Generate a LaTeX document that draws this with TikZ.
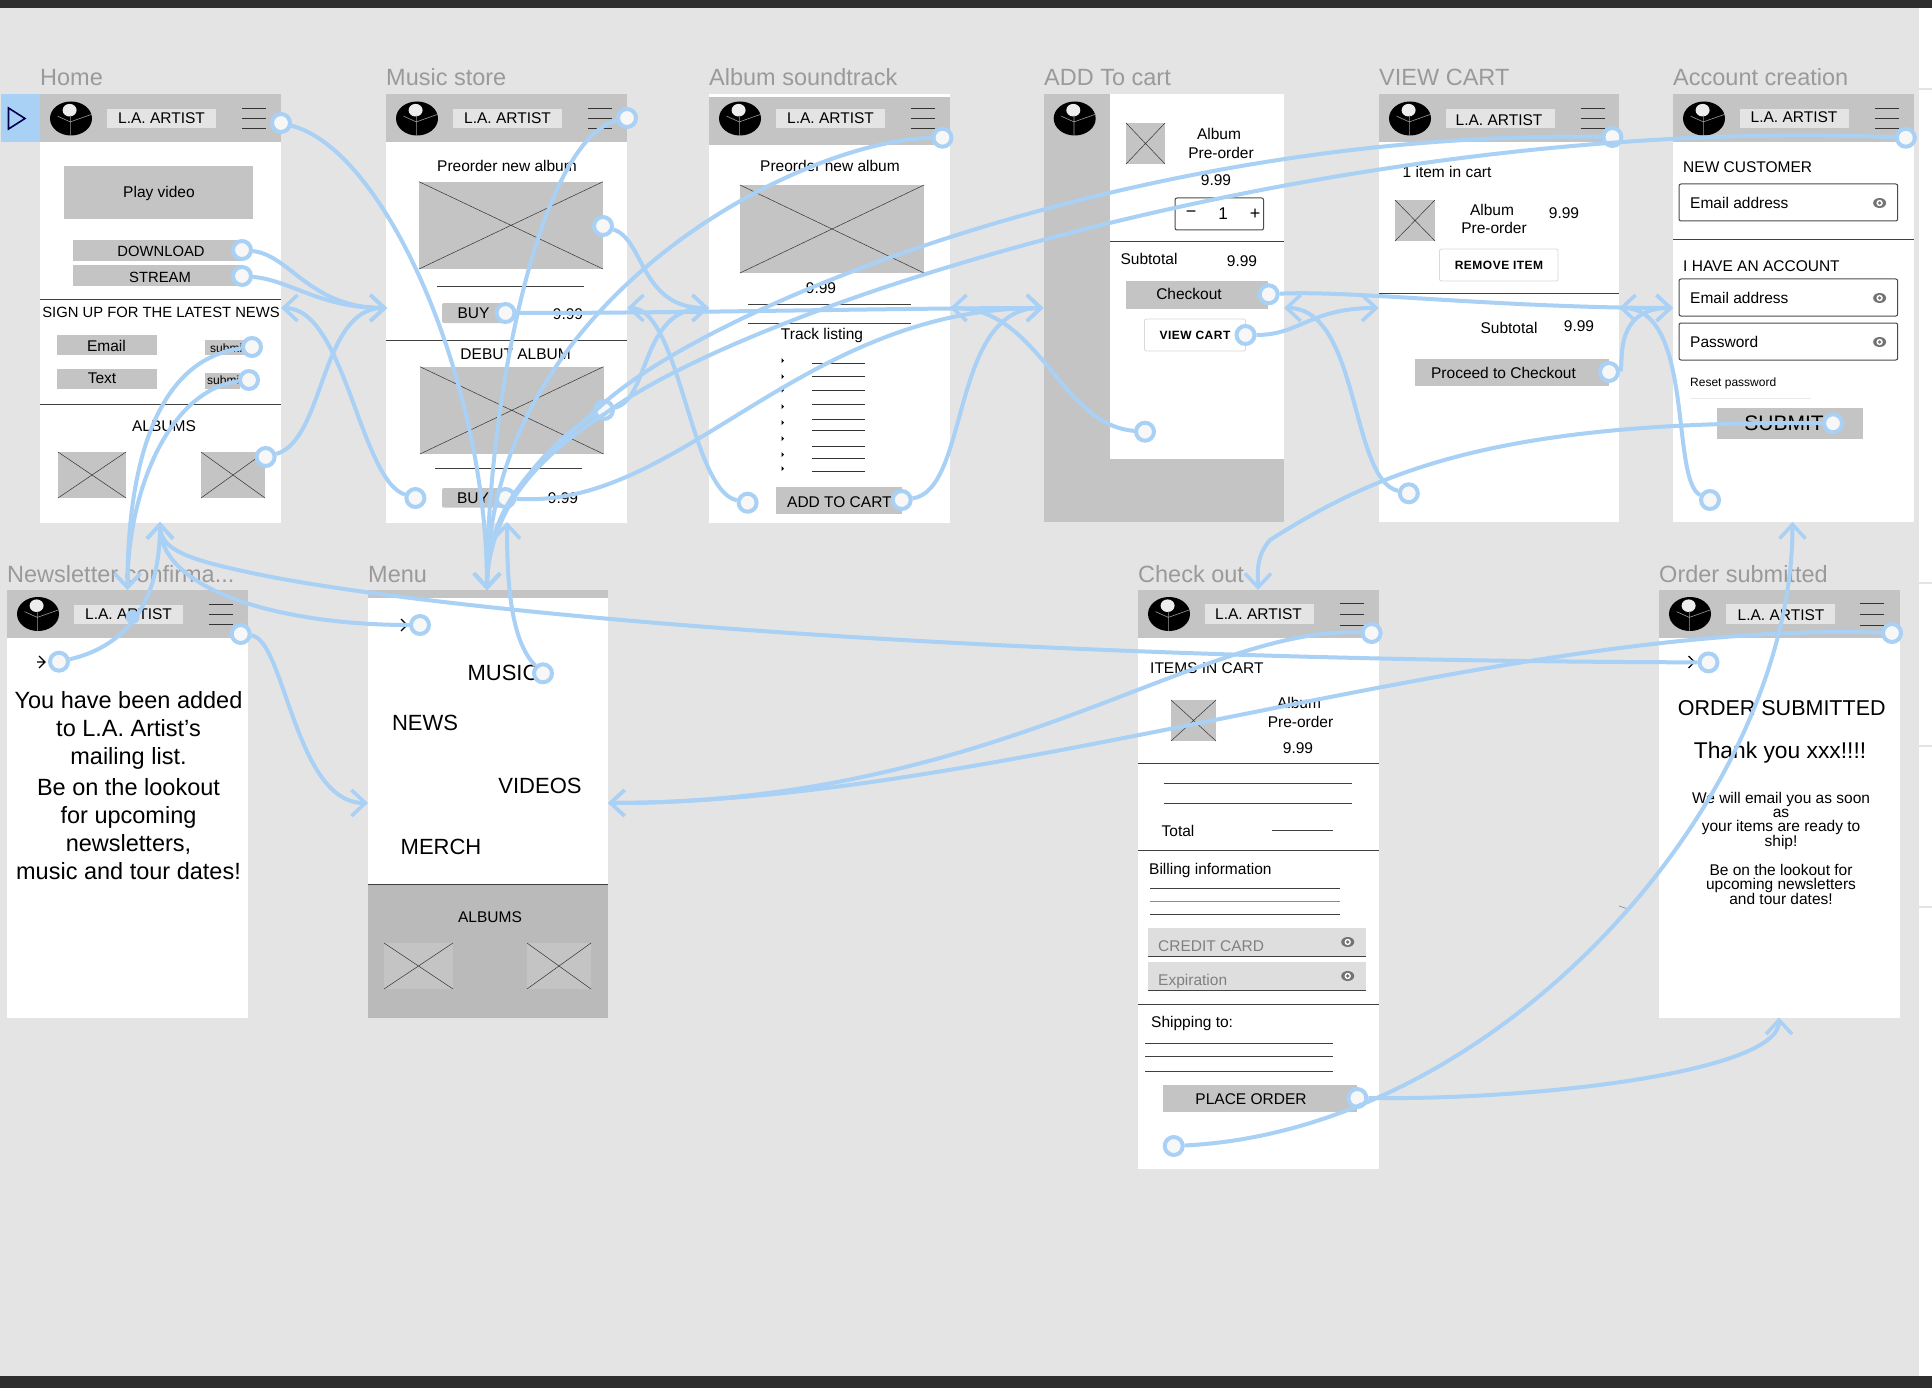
\documentclass[tikz,border=0pt]{standalone}
\usepackage{fontspec}
\setmainfont{Liberation Sans}
\usetikzlibrary{arrows.meta}
\definecolor{canvas}{HTML}{E4E4E4}
\definecolor{bar}{HTML}{2E2E2E}
\definecolor{wire}{HTML}{C4C4C4}
\definecolor{linkblue}{HTML}{A9D0F5}
\definecolor{titlegray}{HTML}{9A9A9A}
\tikzset{
  titletext/.style={anchor=base west,text=titlegray,font=\fontsize{23.5}{26}\selectfont},
  smalltext/.style={font=\fontsize{12}{14}\selectfont},
  bodytext/.style={font=\fontsize{15.5}{18}\selectfont},
  capstext/.style={font=\fontsize{14.8}{18}\selectfont},
  bigtext/.style={font=\fontsize{22}{28}\selectfont},
  lefttext/.style={bodytext,anchor=west},
  rule/.style={line width=0.8pt,draw=black!75},
  thinrule/.style={line width=0.5pt,draw=black!80},
  field/.style={rounded corners=2pt,draw=black!70,line width=1pt,fill=white},
  ghostbtn/.style={rounded corners=2pt,draw=black!15,line width=0.8pt,fill=white},
  hot/.style={circle,draw=linkblue,fill=white!97!black,line width=4pt,minimum size=18pt,inner sep=0pt},
  link/.style={draw=linkblue,line width=4pt,-{Straight Barb[length=14pt,width=26pt,line width=3.5pt]}},
}
\newcommand{\artistlogo}[2]{
  \begin{scope}[shift={(#1,#2)}]
    \fill[black] (0,0) ellipse (21pt and 17pt);
    \fill[black!7] (-1.4,-8.3) ellipse (7pt and 6.3pt);
    \draw[black!40,line width=0.6pt] (-0.7,17) -- (-0.7,3.4) -- (-13.4,-2.3) (-0.7,3.4) -- (21,-4.3) (-0.7,3.4) -- (-0.7,-3);
  \end{scope}
}
\newcommand{\screenhead}[3]{
  \fill[white] (#2,#3) rectangle +(241,428);
  \fill[wire] (#2,#3) rectangle +(241,48);
  \artistlogo{#2+31}{#3+24}
  \fill[canvas] (#2+67,#3+14.5) rectangle +(109,19);
  \node[bodytext] (#1label) at (#2+121.5,#3+24) {L.A. ARTIST};
  \draw[thinrule] (#2+202,#3+14) -- +(23.5,0) (#2+202,#3+24) -- +(23.5,0) (#2+202,#3+34) -- +(23.5,0);
}
\newcommand{\xbox}[4]{
  \fill[wire] (#1,#2) rectangle (#3,#4);
  \draw[thinrule] (#1,#2) -- (#3,#4) (#1,#4) -- (#3,#2);
}
\newcommand{\eyemark}[2]{
  \fill[black!55] (#1,#2) ellipse (6.5pt and 5pt);
  \fill[white] (#1,#2) circle (3.2pt);
  \fill[black!55] (#1,#2) circle (1.8pt);
}
\newcommand{\backmark}[2]{
  \draw[line width=1.2pt,black] (#1-3,#2-6) -- (#1+3,#2) -- (#1-3,#2+6) (#1-5,#2) -- (#1+3,#2);
}
\begin{document}
\begin{tikzpicture}[x=1pt,y=-1pt,inner sep=0pt]
  \useasboundingbox (0,0) rectangle (1932,1388);
  \fill[white] (0,0) rectangle (1932,1388);
  \fill[canvas] (0,0) rectangle (1919,1388);
  \foreach \ly in {88.5,581.6,745,906}
    \fill[canvas] (1919,\ly) rectangle (1932,\ly+2);
  \fill[bar] (0,0) rectangle (1932,8);
  \fill[bar] (0,1376) rectangle (1932,1388);
  \fill[linkblue] (1,94) rectangle (40,142);
  \draw[line width=1.6pt,black!70!blue] (8.5,108) -- (25,118.5) -- (8.5,129) -- cycle;

  \node[titletext] (hometitle) at (40,85.5) {Home};
  \node[titletext] (storetitle) at (386,85.5) {Music store};
  \node[titletext] (albumtitle) at (709,85.5) {Album soundtrack};
  \node[titletext] (carttitle) at (1044,85.5) {ADD To cart};
  \node[titletext] (viewtitle) at (1379,85.5) {VIEW CART};
  \node[titletext] (accttitle) at (1673,85.5) {Account creation};
  \node[titletext] (newstitle) at (7,582) {Newsletter confirma...};
  \node[titletext] (menutitle) at (368,582) {Menu};
  \node[titletext] (checktitle) at (1138,582) {Check out};
  \node[titletext] (ordertitle) at (1659,582) {Order submitted};

  \screenhead{home}{40}{94.5}
  \fill[wire] (64,166) rectangle (253,219);
  \node[bodytext] (playvideo) at (159,193) {Play video};
  \fill[wire] (73,240) rectangle (243,260.7);
  \node[capstext] (download) at (161,251.5) {DOWNLOAD};
  \fill[wire] (73,265) rectangle (243,286);
  \node[capstext] (stream) at (160,277) {STREAM};
  \draw[rule] (40,299) -- (281,299);
  \node[capstext] (signup) at (161,312.7) {SIGN UP FOR THE LATEST NEWS};
  \fill[wire] (57,335) rectangle (157,355);
  \node[bodytext] (emailbtn) at (106.5,345.6) {Email};
  \fill[wire] (57,368.7) rectangle (157,388.7);
  \node[bodytext] (textbtn) at (102,378) {Text};
  \fill[wire] (205,340) rectangle (245,355);
  \node[smalltext,anchor=west] (submitone) at (210,348) {submit};
  \fill[wire] (205,372.7) rectangle (240,388.7);
  \node[smalltext,anchor=west] (submittwo) at (207,380) {submit};
  \draw[rule] (40,404) -- (281,404);
  \node[bodytext] (homealbums) at (164,426) {ALBUMS};
  \xbox{58}{452}{126}{498}
  \xbox{201}{452}{265}{498}

  \screenhead{store}{386}{94.5}
  \node[bodytext] (storepreorder) at (507,165.7) {Preorder new album};
  \xbox{419}{181.7}{603}{269}
  \draw[rule] (437,286.3) -- (584,286.3);
  \fill[wire,rounded corners=2pt] (442,303) rectangle (505,323);
  \node[bodytext] (buyone) at (473.5,313) {BUY};
  \node[bodytext] (priceone) at (568,314) {9.99};
  \draw[rule] (386,340) -- (627,340);
  \node[bodytext] (debut) at (515.6,354) {DEBUT ALBUM};
  \xbox{420}{366.7}{603.5}{454}
  \draw[rule] (435,468) -- (582,468);
  \fill[wire,rounded corners=2pt] (442,488) rectangle (505,507.7);
  \node[bodytext] (buytwo) at (473,498) {BUY};
  \node[bodytext] (pricetwo) at (563,498) {9.99};

  \screenhead{album}{709}{94.5}
  \fill[white] (709,94.5) rectangle (950,97);
  \fill[wire] (709,142) rectangle (950,145);
  \node[bodytext] (albumpreorder) at (830,166) {Preorder new album};
  \xbox{740}{185}{924}{273}
  \node[bodytext] (albumprice) at (821,288) {9.99};
  \draw[rule] (748,304) -- (911,304);
  \draw[rule] (748,323) -- (911,323);
  \node[bodytext] (tracks) at (822,335) {Track listing};
  \foreach \ty in {360.7,376.7,390,406.7,422.7,438.7,454.7,468.7}
    \fill (781.5,\ty-2.5) -- (784,\ty) -- (781.5,\ty+2.5) -- cycle;
  \foreach \ty in {363,376.7,390,404,419,430.7,446,458,471}
    \draw[thinrule] (812,\ty) -- (865,\ty);
  \fill[wire] (776,487) rectangle (901.7,514);
  \node[bodytext] (addcartbtn) at (839.4,501.7) {ADD TO CART};

  \fill[wire] (1043.5,94.5) rectangle (1284,522);
  \fill[white] (1110,94.5) rectangle (1284,459);
  \artistlogo{1074.7}{118.5}
  \xbox{1126}{123}{1165}{164}
  \node[bodytext] (cartitem) at (1219,134) {Album};
  \node[bodytext] (cartpre) at (1221,152.7) {Pre-order};
  \node[bodytext] (cartprice) at (1216,180) {9.99};
  \draw[field] (1175,198) rectangle (1263.6,230);
  \node[font=\fontsize{18}{20}\selectfont] (stepminus) at (1191,214) {−};
  \node[font=\fontsize{17}{20}\selectfont] (stepone) at (1223,214) {1};
  \node[font=\fontsize{18}{20}\selectfont] (stepplus) at (1255,214) {+};
  \draw[rule] (1110,241.7) -- (1284,241.7);
  \node[bodytext] (cartsub) at (1149,259) {Subtotal};
  \node[bodytext] (cartsubprice) at (1242,260.7) {9.99};
  \fill[wire] (1126,281) rectangle (1268,308.7);
  \node[bodytext] (checkoutbtn) at (1189,294) {Checkout};
  \draw[ghostbtn] (1144.5,319) rectangle (1245.5,351);
  \node[smalltext] (viewcartbtn) at (1195,335) {\bfseries\addfontfeature{LetterSpace=4}VIEW CART};

  \fill[white] (1378.6,94.5) rectangle +(240.4,427.5);
  \fill[wire] (1378.6,94.5) rectangle +(240.4,48);
  \artistlogo{1410}{118.5}
  \fill[canvas] (1445.5,109) rectangle +(109,19);
  \node[bodytext] (viewlabel) at (1499,120) {L.A. ARTIST};
  \draw[thinrule] (1581,108) -- +(23.5,0) (1581,118) -- +(23.5,0) (1581,128) -- +(23.5,0);
  \node[bodytext] (itemcount) at (1447,171.7) {1 item in cart};
  \xbox{1395}{200}{1435}{241}
  \node[bodytext] (viewitem) at (1492,209.7) {Album};
  \node[bodytext] (viewpre) at (1494,228) {Pre-order};
  \node[bodytext] (viewprice) at (1564,213) {9.99};
  \draw[ghostbtn] (1439.5,249) rectangle (1558,281);
  \node[smalltext] (removebtn) at (1499,265.7) {\bfseries\addfontfeature{LetterSpace=4}REMOVE ITEM};
  \draw[rule] (1379,293.7) -- (1619,293.7);
  \node[bodytext] (viewsub) at (1509,327.7) {Subtotal};
  \node[bodytext] (viewsubprice) at (1579,326) {9.99};
  \fill[wire] (1415,359) rectangle (1609,385.7);
  \node[bodytext] (proceedbtn) at (1503.5,372.7) {Proceed to Checkout};

  \fill[white] (1673,94.5) rectangle +(240.5,427.5);
  \fill[wire] (1673,94.5) rectangle +(240.5,48);
  \artistlogo{1704}{118.5}
  \fill[canvas] (1740,109) rectangle +(109,19);
  \node[bodytext] (acctlabel) at (1794,117) {L.A. ARTIST};
  \draw[thinrule] (1875,108) -- +(23.5,0) (1875,118) -- +(23.5,0) (1875,128) -- +(23.5,0);
  \node[lefttext] (newcustomer) at (1683,167) {NEW CUSTOMER};
  \draw[field] (1679,184) rectangle (1897.7,221);
  \node[lefttext] (emailone) at (1690,203) {Email address};
  \eyemark{1879.6}{203}
  \draw[rule] (1673,239) -- (1913.5,239);
  \node[lefttext] (haveaccount) at (1683,265.7) {I HAVE AN ACCOUNT};
  \draw[field] (1679,279) rectangle (1897.7,316);
  \node[lefttext] (emailtwo) at (1690,298) {Email address};
  \eyemark{1879.6}{298}
  \draw[field] (1679,323) rectangle (1897.7,360);
  \node[lefttext] (password) at (1690,342) {Password};
  \eyemark{1879.6}{342}
  \node[smalltext,anchor=west] (resetpass) at (1690,383.7) {Reset password};
  \draw[black!8,line width=0.6pt] (1690,398) -- (1811,398);
  \fill[wire] (1717,408) rectangle (1863,439);
  \node[font=\fontsize{21}{24}\selectfont] (submitbtn) at (1784,423) {SUBMIT};

  \screenhead{news}{7}{590}
  \node[font=\fontsize{23.5}{28}\selectfont,align=center] (newsbody) at (128.5,785.5) {You have been added\\to L.A. Artist’s\\mailing list.\\[3pt]Be on the lookout\\for upcoming\\newsletters,\\music and tour dates!};
  \backmark{42}{662}

  \fill[white] (367.5,590) rectangle (608,1018);
  \fill[wire] (367.5,590) rectangle (608,597.6);
  \fill[black!27] (367.5,884) rectangle (608,1018);
  \draw[rule] (367.5,884) -- (608,884);
  \node[bigtext] (menumusic) at (503,673) {MUSIC};
  \node[bigtext] (menunews) at (425,722.7) {NEWS};
  \node[bigtext] (menuvideos) at (540,785.7) {VIDEOS};
  \node[bigtext] (menumerch) at (441,846.7) {MERCH};
  \node[bodytext] (menualbums) at (490,916.7) {ALBUMS};
  \xbox{384}{943}{453}{989}
  \xbox{527}{943}{591}{989}
  \backmark{404}{625}

  \fill[white] (1138,590) rectangle (1378.5,1168.6);
  \fill[wire] (1138,590) rectangle +(240.5,48);
  \artistlogo{1169}{614}
  \fill[canvas] (1205,604) rectangle +(109,20);
  \node[bodytext] (checklabel) at (1258.5,614) {L.A. ARTIST};
  \draw[thinrule] (1340,603) -- +(23.5,0) (1340,614) -- +(23.5,0) (1340,625) -- +(23.5,0);
  \node[lefttext] (itemsincart) at (1150,667.8) {ITEMS IN CART};
  \xbox{1171}{700}{1216}{741}
  \node[bodytext] (checkitem) at (1299,703) {Album};
  \node[bodytext] (checkpre) at (1300.5,722.4) {Pre-order};
  \node[bodytext] (checkprice) at (1298,748) {9.99};
  \draw[rule] (1138,763.7) -- (1378.5,763.7);
  \draw[rule] (1163.7,783) -- (1352,783);
  \draw[rule] (1163.7,803) -- (1352,803);
  \node[bodytext] (checktotal) at (1178,830.6) {Total};
  \draw[rule] (1272,830) -- (1333,830);
  \draw[rule] (1138,850) -- (1378.5,850);
  \node[lefttext] (billing) at (1149,870) {Billing information};
  \draw[rule] (1150,888.6) -- (1340,888.6);
  \draw[rule,line width=1.4pt,draw=black!45] (1150,901.6) -- (1340,901.6);
  \draw[rule] (1150,914) -- (1340,914);
  \fill[black!13] (1147.7,928) rectangle (1366,956);
  \draw[rule] (1147.7,956) -- (1366,956);
  \node[lefttext,text=black!50] (creditcard) at (1158,946) {CREDIT CARD};
  \eyemark{1347.7}{942}
  \fill[black!13] (1147.7,962) rectangle (1366,990);
  \draw[rule] (1147.7,990) -- (1366,990);
  \node[lefttext,text=black!50] (expiration) at (1158,981) {Expiration};
  \eyemark{1347.7}{976}
  \draw[rule] (1138,1004.5) -- (1378.5,1004.5);
  \node[lefttext] (shipping) at (1151,1023.7) {Shipping to:};
  \draw[rule] (1145,1043.7) -- (1333,1043.7);
  \draw[rule] (1145,1056) -- (1333,1056);
  \draw[rule] (1145,1071) -- (1333,1071);
  \fill[wire] (1163,1085) rectangle (1357,1112);
  \node[bodytext] (placeorderbtn) at (1251,1098.8) {PLACE ORDER};

  \fill[white] (1658.6,590) rectangle (1899.5,1017.5);
  \fill[wire] (1658.6,590) rectangle +(240.9,48);
  \artistlogo{1690}{614}
  \fill[canvas] (1725.5,604) rectangle +(109,20);
  \node[bodytext] (orderlabel) at (1781,615) {L.A. ARTIST};
  \draw[thinrule] (1860,603) -- +(23.5,0) (1860,614) -- +(23.5,0) (1860,625) -- +(23.5,0);
  \node[font=\fontsize{21.5}{26}\selectfont] (ordersubmitted) at (1781.7,708) {ORDER SUBMITTED};
  \node[font=\fontsize{22.8}{26}\selectfont] (orderthanks) at (1780,752.5) {Thank you xxx!!!!};
  \node[font=\fontsize{15.5}{14}\selectfont,align=center] (ordermsg) at (1781,848.5) {We will email you as soon\\as\\your items are ready to\\ship!\\[13pt]Be on the lookout for\\upcoming newsletters\\and tour dates!};
  \backmark{1691.5}{662}
  \draw[black!50,line width=0.6pt] (1619,906) -- (1628,909);

  \node[hot] (homeham) at (281,123) {};
  \node[hot] (downloadhot) at (242,250) {};
  \node[hot] (streamhot) at (242,276) {};
  \node[hot] (emailhot) at (252,347) {};
  \node[hot] (texthot) at (249,380) {};
  \node[hot] (thumbhot) at (265.6,457) {};
  \node[hot] (storeham) at (627,118) {};
  \node[hot] (imagehot) at (603,226) {};
  \node[hot] (buyonehot) at (505.5,313) {};
  \node[hot] (imagetwohot) at (604,410) {};
  \node[hot] (buytwohot) at (505.5,498) {};
  \node[hot] (storeback) at (415.4,498) {};
  \node[hot] (albumham) at (942.5,137.7) {};
  \node[hot] (albumback) at (747.6,502.7) {};
  \node[hot] (addcarthot) at (901.7,500) {};
  \node[hot] (cartback) at (1145,431.7) {};
  \node[hot] (checkouthot) at (1268.7,294.3) {};
  \node[hot] (viewcarthot) at (1245.5,335) {};
  \node[hot] (viewham) at (1612.4,137) {};
  \node[hot] (viewback) at (1408.8,493.3) {};
  \node[hot] (proceedhot) at (1609,372) {};
  \node[hot] (acctham) at (1905.8,137.7) {};
  \node[hot] (submithot) at (1833,423.3) {};
  \node[hot] (acctback) at (1710,500) {};
  \node[hot] (newsback) at (59,661.7) {};
  \node[hot] (newsham) at (240.7,634) {};
  \node[hot] (menuback) at (420,625) {};
  \node[hot] (musichot) at (543,673.3) {};
  \node[hot] (checkham) at (1371.6,633) {};
  \node[hot] (placehot) at (1357.3,1098) {};
  \node[hot] (checkback) at (1173.7,1146) {};
  \node[hot] (orderham) at (1892,633) {};
  \node[hot] (orderback) at (1708.5,662.4) {};
  \node[circle,fill=linkblue,minimum size=14pt] (newsdot) at (132.6,617) {};

  \coordinate (homeright) at (281,308);
  \coordinate (homebottom) at (160,522);
  \coordinate (storeleft) at (387,308);
  \coordinate (storeright) at (627,308);
  \coordinate (storebottom) at (507,522);
  \coordinate (albumleft) at (709,308);
  \coordinate (albumright) at (950,308);
  \coordinate (cartleft) at (1043.5,308);
  \coordinate (cartright) at (1284,308);
  \coordinate (viewleft) at (1378.6,308);
  \coordinate (viewright) at (1619,308);
  \coordinate (acctleft) at (1673,308);
  \coordinate (acctbottom) at (1792.5,522);
  \coordinate (newstop) at (127.5,590);
  \coordinate (menutop) at (487,590);
  \coordinate (menuleft) at (368,803);
  \coordinate (menuright) at (608,803);
  \coordinate (checktop) at (1258,590);
  \coordinate (orderbottom) at (1779,1017.5);

  \draw[link] (homeham) .. controls (385,150) and (487,380) .. (menutop);
  \draw[link] (downloadhot) .. controls (290,255) and (310,308) .. (storeleft);
  \draw[link] (streamhot) .. controls (290,280) and (320,308) .. (storeleft);
  \draw[link] (emailhot) .. controls (150,360) and (127.5,480) .. (newstop);
  \draw[link] (texthot) .. controls (170,390) and (127.5,490) .. (newstop);
  \draw[link] (thumbhot) .. controls (325,440) and (320,308) .. (storeleft);
  \draw[link] (storeham) .. controls (540,140) and (487,400) .. (menutop);
  \draw[link] (imagehot) .. controls (645,240) and (640,308) .. (albumleft);
  \draw[link] (buyonehot) .. controls (700,313) and (900,308) .. (cartleft);
  \draw[link] (imagetwohot) .. controls (650,400) and (640,308) .. (albumleft);
  \draw[link] (imagetwohot) .. controls (550,440) and (487,510) .. (menutop);
  \draw[link] (buytwohot) .. controls (680,510) and (800,308) .. (cartleft);
  \draw[link] (storeback) .. controls (360,480) and (345,308) .. (homeright);
  \draw[link] (albumham) .. controls (800,140) and (487,300) .. (menutop);
  \draw[link] (albumback) .. controls (690,490) and (680,308) .. (storeright);
  \draw[link] (addcarthot) .. controls (970,490) and (950,308) .. (cartleft);
  \draw[link] (cartback) .. controls (1060,425) and (1040,308) .. (albumright);
  \draw[link] (checkouthot) .. controls (1350,290) and (1500,308) .. (acctleft);
  \draw[link] (viewcarthot) .. controls (1300,335) and (1310,308) .. (viewleft);
  \draw[link] (proceedhot) .. controls (1625,370) and (1610,308) .. (acctleft);
  \draw[link] (viewback) .. controls (1350,480) and (1360,308) .. (cartright);
  \draw[link] (acctback) .. controls (1670,480) and (1695,308) .. (viewright);
  \draw[link] (viewham) .. controls (1150,130) and (720,300) .. (604,403) .. controls (540,460) and (487,500) .. (menutop);
  \draw[link] (acctham) .. controls (1350,115) and (760,300) .. (606,413) .. controls (540,455) and (487,510) .. (menutop);
  \draw[link] (newsback) .. controls (110,650) and (160,620) .. (homebottom);
  \draw[link] (newsham) .. controls (285,640) and (295,803) .. (menuleft);
  \draw[link] (menuback) .. controls (280,625) and (160,590) .. (homebottom);
  \draw[link] (orderback) .. controls (900,660) and (400,605) .. (252,573) .. controls (190,560) and (160,550) .. (homebottom);
  \draw[link] (musichot) .. controls (510,640) and (507,580) .. (storebottom);
  \draw[link] (checkham) .. controls (1200,625) and (1000,803) .. (menuright);
  \draw[link] (orderham) .. controls (1500,620) and (1000,803) .. (menuright);
  \draw[link] (placehot) .. controls (1550,1100) and (1779,1070) .. (orderbottom);
  \draw[link] (checkback) .. controls (1500,1130) and (1792.5,800) .. (acctbottom);
  \draw[link] (submithot) .. controls (1500,420) and (1380,470) .. (1270,540) .. controls (1255,557) and (1258,575) .. (checktop);
\end{tikzpicture}
\end{document}
